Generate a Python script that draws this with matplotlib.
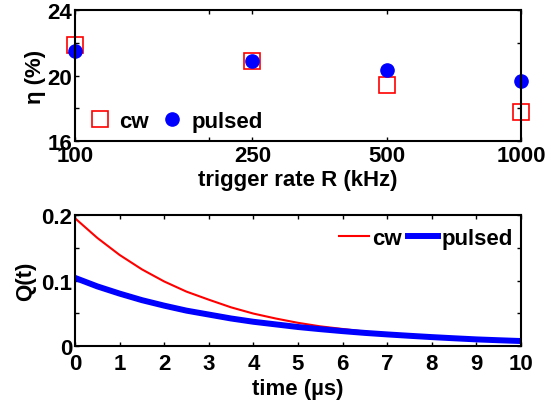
import matplotlib
matplotlib.use('Agg')
import matplotlib.pyplot as plt
from matplotlib.ticker import NullLocator, NullFormatter

plt.rcParams['font.family'] = ['Liberation Sans', 'DejaVu Sans']
plt.rcParams['font.weight'] = 'bold'
plt.rcParams['font.size'] = 16
plt.rcParams['axes.labelweight'] = 'bold'

# top panel: efficiency vs trigger rate
rate = [100, 250, 500, 1000]
eta_cw = [21.85, 20.9, 19.4, 17.75]
eta_pulsed = [21.5, 20.9, 20.35, 19.7]
rate_ticks = [100, 200, 250, 500, 1000]
rate_labels = ['100', '', '250', '500', '1000']
eta_ticks = [16, 18, 20, 22, 24]
eta_labels = ['16', '', '20', '', '24']

# bottom panel: Q(t)
t = [0, 0.5, 1, 1.5, 2, 2.5, 3, 3.5, 4, 4.5, 5, 5.5, 6, 6.5, 7, 7.5, 8, 8.5, 9, 9.5, 10]
q_cw = [0.195, 0.165, 0.139, 0.117, 0.0985, 0.083, 0.0707, 0.059, 0.0495, 0.042, 0.0354,
        0.030, 0.026, 0.022, 0.019, 0.017, 0.015, 0.013, 0.011, 0.010, 0.009]
q_pulsed = [0.104, 0.091, 0.080, 0.070, 0.0616, 0.054, 0.048, 0.042, 0.037, 0.033, 0.029,
            0.0257, 0.0227, 0.020, 0.0177, 0.0156, 0.0136, 0.0118, 0.0101, 0.0088, 0.0076]
t_ticks = list(range(0, 11))
q_ticks = [0, 0.05, 0.1, 0.15, 0.2]
q_labels = ['0', '', '0.1', '', '0.2']

fig = plt.figure(figsize=(5.46, 4.06), dpi=100)
ax1 = fig.add_axes([0.1374, 0.650, 0.8168, 0.3227])
ax2 = fig.add_axes([0.1374, 0.1453, 0.8168, 0.3227])

for ax in (ax1, ax2):
    for s in ax.spines.values():
        s.set_linewidth(1.5)
    ax.tick_params(direction='in', top=True, right=True, length=3, width=1.0)

# top
ax1.plot(rate, eta_cw, 's', ms=12, mfc='none', mec='red', mew=1.2, label='cw', clip_on=False)
ax1.plot(rate, eta_pulsed, 'o', ms=9.5, color='blue', label='pulsed', clip_on=False)
ax1.set_xscale('log')
ax1.set_xlim(100, 1000)
ax1.set_ylim(16, 24)
ax1.xaxis.set_minor_locator(NullLocator())
ax1.xaxis.set_minor_formatter(NullFormatter())
ax1.set_xticks(rate_ticks)
ax1.set_xticklabels(rate_labels)
ax1.set_yticks(eta_ticks)
ax1.set_yticklabels(eta_labels)
ax1.tick_params(axis='x', pad=3)
ax1.tick_params(axis='y', pad=2)
ax1.set_xlabel('trigger rate R (kHz)', labelpad=2)
ax1.set_ylabel('η (%)', labelpad=1)
ax1.legend(loc='center left', bbox_to_anchor=(0.036, 0.15), ncol=2, frameon=False,
           borderpad=0, borderaxespad=0, handlelength=0.8, handletextpad=0.48,
           columnspacing=0.64)

# bottom
ax2.plot(t, q_cw, color='red', lw=1.5, label='cw')
ax2.plot(t, q_pulsed, color='blue', lw=4.3, label='pulsed')
ax2.set_xlim(0, 10)
ax2.set_ylim(0, 0.2)
ax2.set_xticks(t_ticks)
ax2.set_yticks(q_ticks)
ax2.set_yticklabels(q_labels)
ax2.tick_params(axis='x', pad=5)
ax2.tick_params(axis='y', pad=2)
ax2.set_xlabel('time (µs)', labelpad=3)
ax2.set_ylabel('Q(t)', labelpad=4)
ax2.legend(loc='center right', bbox_to_anchor=(0.982, 0.824), ncol=2, frameon=False,
           borderpad=0, borderaxespad=0, handlelength=1.35, handletextpad=0.14,
           columnspacing=0.32)

fig.savefig('out.png', dpi=100)
